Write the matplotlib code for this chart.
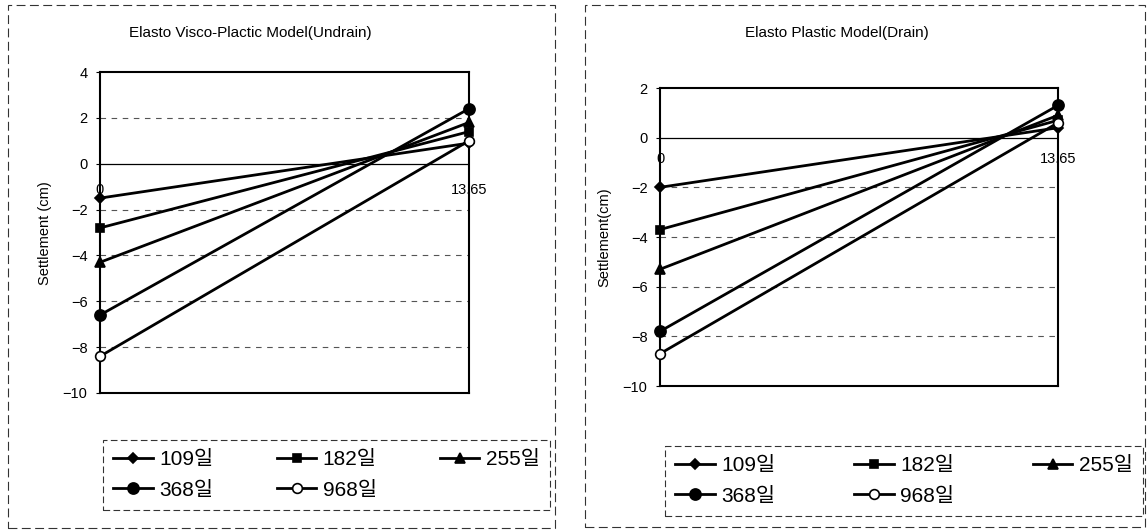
import matplotlib
matplotlib.use("Agg")
import matplotlib.pyplot as plt
from matplotlib.patches import Rectangle

plt.rcParams['font.family'] = ['Liberation Sans', 'Noto Sans CJK KR', 'DejaVu Sans']

# data
days = ['109일', '182일', '255일', '368일', '968일']
x_pos = [0, 13.65]
x_labels = ['0', '13.65']

undrain_start = [-1.5, -2.8, -4.3, -6.6, -8.4]
undrain_end = [0.9, 1.4, 1.8, 2.4, 1.0]

drain_start = [-2.0, -3.7, -5.3, -7.8, -8.7]
drain_end = [0.4, 0.7, 0.9, 1.3, 0.6]

markers = ['D', 's', '^', 'o', 'o']
msizes = [5, 6, 7, 8, 7]
faces = ['black', 'black', 'black', 'black', 'white']

W, H = 1148, 531
fig = plt.figure(figsize=(W / 100, H / 100), dpi=100)


def fx(px):
    return px / W


def fy(py):
    return 1 - py / H


def panel(rect, title, title_xy, ylabel, ylabel_xy, starts, ends, ylim, lab_off, leg_box, border):
    ax = fig.add_axes(rect)
    lines = []
    for i in range(len(days)):
        ln, = ax.plot(x_pos, [starts[i], ends[i]], color='black', lw=2.0,
                      marker=markers[i], ms=msizes[i], mfc=faces[i], mec='black',
                      mew=1.2, clip_on=False, label=days[i], zorder=3)
        lines.append(ln)
    ax.set_xlim(x_pos[0], x_pos[-1])
    ax.set_ylim(*ylim)
    ax.set_yticks(range(ylim[0], ylim[1] + 1, 2))
    ax.tick_params(axis='y', labelsize=10.5, length=3, pad=6)
    ax.set_xticks([])
    for t in ax.get_yticks():
        if t == 0:
            ax.axhline(0, color='black', lw=0.9, zorder=1)
        elif ylim[0] < t < ylim[1]:
            ax.axhline(t, color='#555555', lw=0.8, ls=(0, (5, 5)), zorder=1)
    for xp, lbl in zip(x_pos, x_labels):
        ax.annotate(lbl, (xp, 0), xytext=(0, lab_off), textcoords='offset points',
                    ha='center', va='top', fontsize=10.5, annotation_clip=False)
    for s in ax.spines.values():
        s.set_linewidth(1.5)
    fig.text(fx(title_xy[0]), fy(title_xy[1]), title, ha='center', va='center', fontsize=11)
    fig.text(fx(ylabel_xy[0]), fy(ylabel_xy[1]), ylabel, ha='center', va='center',
             rotation=90, fontsize=10.5)
    # row-wise order for a 3-column legend
    order = [0, 3, 1, 4, 2]
    x0, y0, x1, y1 = leg_box
    leg = ax.legend([lines[k] for k in order], [days[k] for k in order],
                    loc='center', bbox_to_anchor=(fx(x0), fy(y1), fx(x1) - fx(x0), fy(y0) - fy(y1)),
                    bbox_transform=fig.transFigure, ncol=3, mode='expand', fontsize=15,
                    frameon=True, fancybox=False, edgecolor='black', handlelength=1.9,
                    handletextpad=0.3, borderaxespad=0, borderpad=0.5,
                    columnspacing=1.0, labelspacing=0.55)
    leg.get_frame().set_linewidth(0.8)
    leg.get_frame().set_linestyle((0, (6, 3)))
    bx0, by0, bx1, by1 = border
    fig.add_artist(Rectangle((fx(bx0), fy(by1)), fx(bx1) - fx(bx0), fy(by0) - fy(by1),
                             transform=fig.transFigure, fill=False, ec='#333333',
                             lw=0.8, ls=(0, (8, 4))))
    return ax


panel([fx(100), fy(393), fx(369), 321 / H], 'Elasto Visco-Plactic Model(Undrain)', (250, 33),
      'Settlement (cm)', (45, 233), undrain_start, undrain_end, (-10, 4), -14,
      (103, 433, 550, 517), (8, 5, 555, 528))

panel([fx(660), fy(386), fx(398), 298 / H], 'Elasto Plastic Model(Drain)', (837, 33),
      'Settlement(cm)', (604, 237), drain_start, drain_end, (-10, 2), -10,
      (665, 442, 1143, 520), (585, 5, 1145, 527))

fig.savefig('out.png', dpi=100)
